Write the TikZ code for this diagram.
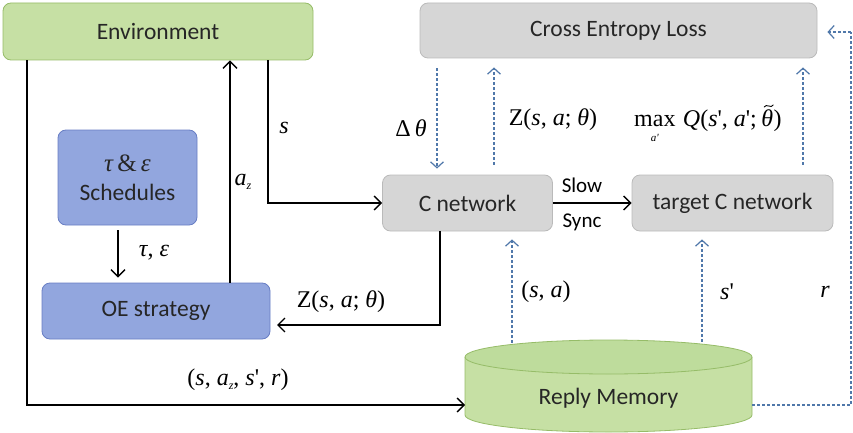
\documentclass[tikz,border=0pt]{standalone}
\usepackage{fontspec}
\setmainfont{Liberation Serif}
\newfontfamily\boxfont{Carlito}
\usetikzlibrary{arrows.meta,calc}

\definecolor{envfill}{RGB}{198,224,164}
\definecolor{envline}{RGB}{150,188,104}
\definecolor{bluefill}{RGB}{146,166,222}
\definecolor{blueline}{RGB}{104,126,196}
\definecolor{grayfill}{RGB}{214,214,214}
\definecolor{grayline}{RGB}{186,186,186}
\definecolor{dashblue}{RGB}{80,120,170}
\definecolor{memtop}{RGB}{190,220,156}

\newcommand{\prm}{\textquotesingle}

\tikzset{
  box/.style={rounded corners=8pt, line width=0.8pt, inner sep=0pt,
    font=\boxfont\fontsize{23.5}{26}\selectfont, text=black!85},
  greenbox/.style={box, draw=envline, fill=envfill},
  bluebox/.style={box, draw=blueline, fill=bluefill},
  graybox/.style={box, draw=grayline, fill=grayfill},
  flow/.style={line width=1.4pt, -{Straight Barb[length=7pt,width=14pt,line width=1.4pt]}},
  dflow/.style={dashblue, line width=1.2pt, dash pattern=on 3pt off 2pt,
    -{Straight Barb[length=6pt,width=13pt,line width=1.2pt]}},
  dplain/.style={dashblue, line width=1.2pt, dash pattern=on 3pt off 2pt},
  lbl/.style={font=\fontsize{24}{26}\selectfont, inner sep=0pt},
  slbl/.style={font=\boxfont\fontsize{21}{24}\selectfont, inner sep=0pt}
}

\begin{document}
\begin{tikzpicture}[x=1pt,y=-1pt]
\useasboundingbox (0,0) rectangle (853,433);

% boxes
\node[greenbox, minimum width=310pt, minimum height=57pt] (env) at (158,31.5) {Environment};
\node[graybox, minimum width=397pt, minimum height=55pt] (cel) at (618.5,30.5) {Cross Entropy Loss};
\node[graybox, minimum width=170pt, minimum height=56pt] (cnet) at (467.5,203) {C network};
\node[graybox, minimum width=201pt, minimum height=56pt] (tnet) at (732.5,203) {target C network};
\node[bluebox, minimum width=139pt, minimum height=95pt, align=center] (sched) at (127.5,177.5)
  {\fontsize{25}{26}\selectfont\rmfamily\itshape τ\,\upshape\&\,\itshape ε\\[3pt]Schedules};
\node[bluebox, minimum width=228pt, minimum height=56pt] (oe) at (156,311) {OE strategy};

% replay memory drum
\node[minimum width=287pt, minimum height=92pt, inner sep=0pt] (mem) at (608.5,386) {};
\fill[envfill] (465,357) -- (465,415) arc[start angle=180, end angle=360, x radius=143.5pt, y radius=17pt]
  -- (752,357) -- cycle;
\draw[envline, line width=0.8pt] (465,357) -- (465,415) arc[start angle=180, end angle=360, x radius=143.5pt, y radius=17pt]
  -- (752,357);
\draw[envline, line width=0.8pt, fill=memtop] (608.5,357) ellipse[x radius=143.5pt, y radius=17pt];
\node[font=\boxfont\fontsize{23.5}{26}\selectfont, text=black!85] at (608.5,398) {Reply Memory};

% column positions of the vertical connectors
\coordinate (xL) at (27,0);
\coordinate (xA) at (230,0);
\coordinate (xS) at (268,0);
\coordinate (xT) at (118,0);
\coordinate (xC) at (440,0);
\coordinate (xD) at (437,0);
\coordinate (xZ) at (494,0);
\coordinate (xQ) at (803,0);
\coordinate (xM) at (512,0);
\coordinate (xP) at (702,0);
\coordinate (memIn) at (465,405);
\coordinate (memOut) at (752,405);
\coordinate (edgeB) at (851,405);
\coordinate (edgeT) at (851,32);
\coordinate (oeIn) at (277,325);

% solid connectors
\draw[flow] (env.south -| xL) |- (memIn);
\draw[flow] (oe.north -| xA) -- (env.south -| xA);
\draw[flow] (env.south -| xS) |- (cnet.west);
\draw[flow, shorten <=5pt, shorten >=5pt] (sched.south -| xT) -- (oe.north -| xT);
\draw[flow] (cnet.south -| xC) |- (oeIn);
\draw[flow] (cnet.east) -- (tnet.west);

% dashed connectors
\draw[dflow, shorten <=10pt, shorten >=6pt] (cel.south -| xD) -- (cnet.north -| xD);
\draw[dflow, shorten <=10pt, shorten >=9pt] (cnet.north -| xZ) -- (cel.south -| xZ);
\draw[dflow, shorten <=10pt, shorten >=9pt] (tnet.north -| xQ) -- (cel.south -| xQ);
\draw[dflow, shorten >=8pt] ($(mem.north -| xM)+(0,3)$) -- (cnet.south -| xM);
\draw[dflow, shorten >=8pt] ($(mem.north -| xP)+(0,2)$) -- (tnet.south -| xP);
\draw[dplain] (memOut) -- (edgeB) -- (edgeT);
\draw[dflow, shorten >=10pt] (edgeT) -- (edgeT -| cel.east);

% labels
\node[slbl] at (582,185) {Slow};
\node[slbl] at (582,222) {Sync};
\node[lbl] at (284,128) {\itshape s};
\node[lbl] at (243,182) {\itshape a\raisebox{-4pt}{\fontsize{12}{12}\selectfont z}};
\node[lbl] at (154,253) {\itshape τ\upshape, \itshape ε};
\node[lbl] at (341,302) {Z(\textit{s}, \textit{a}; \textit{θ})};
\node[lbl] at (411,128) {Δ\,\textit{θ}};
\node[lbl] at (553,120) {Z(\textit{s}, \textit{a}; \textit{θ})};

% max over a' of Q with the target weights (tilde drawn as a stroke)
\node[lbl, anchor=base west] (qmax) at (634,126) {max};
\node[font=\fontsize{11}{11}\selectfont, inner sep=0pt, anchor=north] (qsub) at ($(qmax.south)+(0,8)$) {\textit{a\prm}};
\node[lbl, anchor=base west] (qarg) at ($(qmax.base east)+(7,0)$) {\textit{Q}(\textit{s}\prm, \textit{a}\prm;\,};
\node[lbl, anchor=base west] (qth) at (qarg.base east) {\textit{θ}};
\node[lbl, anchor=base west] (qend) at (qth.base east) {)};
\draw[line width=0.9pt, line cap=round] ($(qth.north)+(-3,-2)$) .. controls +(2,-4) and +(-2,4) .. ($(qth.north)+(6,-4)$);

\node[lbl] at (238,380) {(\textit{s}, \textit{a}\raisebox{-4pt}{\fontsize{12}{12}\selectfont\textit{z}}, \textit{s}\prm, \textit{r})};
\node[lbl] at (546,292) {(\textit{s}, \textit{a})};
\node[lbl] at (727,292) {\textit{s}\prm};
\node[lbl] at (825,292) {\textit{r}};
\end{tikzpicture}
\end{document}
